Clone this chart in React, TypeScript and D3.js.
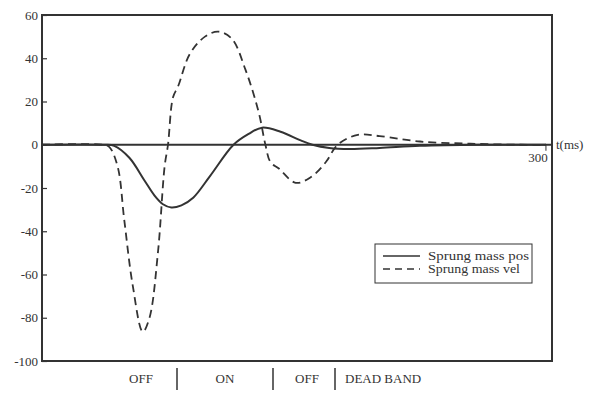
import * as d3 from 'd3';
import { useEffect, useRef } from 'react';

// time (ms) and values
const posTime = [0, 37, 43, 52, 61, 67, 72, 77, 83, 90, 100, 114, 123, 131, 142, 154, 161, 171, 183, 201, 225, 260, 300];
const posValues = [0, 0, -0.5, -6, -16.5, -23.5, -27.5, -29, -28, -24.5, -14.5, 0, 5, 7.9, 6, 2, 0, -1.5, -2, -1.5, -0.5, 0, 0];

const velTime = [0, 36, 40, 45, 49, 54, 60, 64, 69, 73, 75, 78, 81, 88, 97, 105, 113, 121, 129, 133, 136, 141, 151, 160, 169, 176, 188, 201, 225, 255, 285, 300];
const velValues = [0, 0, -1, -10, -35, -65, -86.5, -80, -50, -10, 0, 22, 27, 42, 50, 52.3, 49, 35, 15, 0, -8, -11, -17.6, -15, -8, 0, 4.6, 4, 1.5, 0.5, 0, 0];

const yTicks = [60, 40, 20, 0, -20, -40, -60, -80, -100];
const phaseLabels = ['OFF', 'ON', 'OFF', 'DEAD BAND'];
const legendLabels = ['Sprung mass pos', 'Sprung mass vel'];

export default function App() {
  const svgRef = useRef<SVGSVGElement>(null);

  useEffect(() => {
    const svg = d3.select(svgRef.current);
    svg.selectAll('*').remove();

    const width = 592;
    const height = 394;
    const left = 42, right = 552, top = 15, bottom = 361;
    const ink = '#333';
    const font = '"Liberation Serif", "DejaVu Serif", serif';

    const x = d3.scaleLinear([0, 303.6], [left, right]);
    const y = d3.scaleLinear([-100, 60], [bottom, top]);

    svg.attr('width', width).attr('height', height)
      .attr('viewBox', [0, 0, width, height])
      .style('position', 'absolute')
      .style('left', 0)
      .style('top', 0)
      .style('font-family', font);

    svg.append('rect').attr('width', width).attr('height', height).attr('fill', '#fff');

    // frame
    svg.append('rect')
      .attr('x', left).attr('y', top)
      .attr('width', right - left).attr('height', bottom - top)
      .attr('fill', 'none').attr('stroke', ink).attr('stroke-width', 2);

    // y axis: inward ticks
    svg.append('g')
      .attr('transform', `translate(${left},0)`)
      .call(d3.axisRight(y).tickValues(yTicks).tickSize(5).tickFormat(() => ''))
      .call(g => g.select('.domain').remove())
      .call(g => g.selectAll('.tick line').attr('stroke', ink).attr('stroke-width', 1.2));

    svg.append('g')
      .selectAll('text')
      .data(yTicks)
      .join('text')
      .attr('x', left - 4)
      .attr('y', d => y(d))
      .attr('dy', '0.35em')
      .attr('text-anchor', 'end')
      .attr('font-size', 13)
      .attr('fill', ink)
      .text(d => d);

    // zero line
    svg.append('line')
      .attr('x1', left).attr('x2', right)
      .attr('y1', y(0)).attr('y2', y(0))
      .attr('stroke', ink).attr('stroke-width', 1.8);

    // 300 tick + labels
    svg.append('line')
      .attr('x1', x(300)).attr('x2', x(300))
      .attr('y1', y(0)).attr('y2', y(0) + 6)
      .attr('stroke', ink);
    svg.append('text')
      .attr('x', x(300) - 8).attr('y', y(0) + 17)
      .attr('text-anchor', 'middle').attr('font-size', 13).attr('fill', ink)
      .text('300');
    svg.append('text')
      .attr('x', right + 4).attr('y', y(0) + 4)
      .attr('font-size', 13).attr('fill', ink)
      .text('t(ms)');

    const line = d3.line<number>().curve(d3.curveCatmullRom.alpha(0.5));

    svg.append('path')
      .attr('fill', 'none').attr('stroke', ink).attr('stroke-width', 2)
      .attr('d', line.x((_, i) => x(posTime[i])).y(d => y(d))(posValues));

    svg.append('path')
      .attr('fill', 'none').attr('stroke', ink).attr('stroke-width', 1.8)
      .attr('stroke-dasharray', '8,5')
      .attr('d', line.x((_, i) => x(velTime[i])).y(d => y(d))(velValues));

    // legend
    const lg = svg.append('g').attr('transform', 'translate(375,244)');
    lg.append('rect')
      .attr('width', 157).attr('height', 39)
      .attr('fill', '#fff').attr('stroke', ink).attr('stroke-width', 1);
    legendLabels.forEach((label, i) => {
      const ly = 12 + i * 13;
      lg.append('line')
        .attr('x1', 8).attr('x2', 45).attr('y1', ly).attr('y2', ly)
        .attr('stroke', ink).attr('stroke-width', 1.6)
        .attr('stroke-dasharray', i ? '7,5' : null);
      lg.append('text')
        .attr('x', 53).attr('y', ly).attr('dy', '0.35em')
        .attr('font-size', 12).attr('fill', ink)
        .attr('textLength', i ? 92 : 101)
        .attr('lengthAdjust', 'spacingAndGlyphs')
        .text(label);
    });

    // phase labels under the chart
    const phaseX = [141, 225, 307, 345];
    const anchors = ['middle', 'middle', 'middle', 'start'];
    svg.append('g')
      .selectAll('text')
      .data(phaseLabels)
      .join('text')
      .attr('x', (_, i) => phaseX[i])
      .attr('y', 383)
      .attr('text-anchor', (_, i) => anchors[i])
      .attr('font-size', 13)
      .attr('fill', ink)
      .text(d => d);
    svg.append('g')
      .selectAll('line')
      .data([177, 273, 335])
      .join('line')
      .attr('x1', d => d).attr('x2', d => d)
      .attr('y1', 368).attr('y2', 390)
      .attr('stroke', ink).attr('stroke-width', 1.5);
  }, []);

  return <svg ref={svgRef} />;
}
